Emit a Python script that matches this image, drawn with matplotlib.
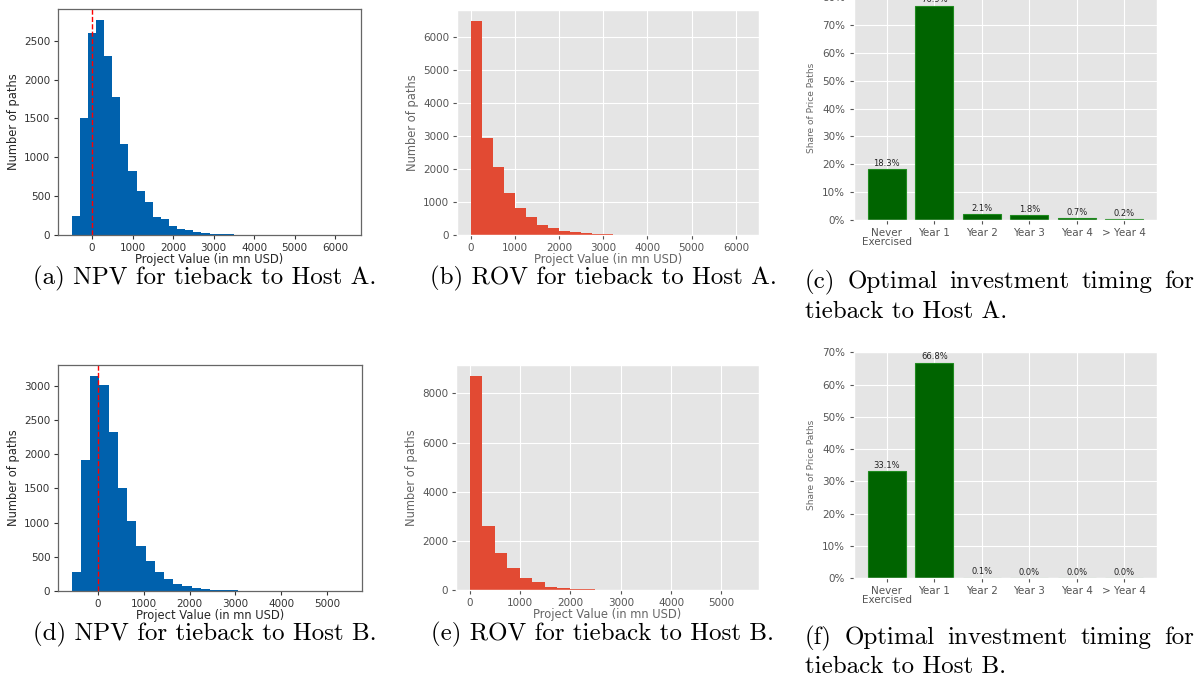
import matplotlib
matplotlib.use("Agg")
import matplotlib.pyplot as plt
import numpy as np
from matplotlib.ticker import FuncFormatter

# simulated project values, binned (counts per bin)
npv_a_edges = np.linspace(-500, 6300, 35)
npv_a_counts = [240, 1510, 2600, 2770, 2300, 1770, 1165, 830, 562, 420, 232, 206,
                111, 81, 65, 34, 30, 17, 13, 8, 5, 3, 6, 2, 1, 1, 0, 0, 1, 0, 0, 0, 0, 1]

rov_a_edges = np.linspace(0, 6213, 26)
rov_a_counts = [6500, 2950, 2070, 1265, 824, 543, 300, 211, 120, 90, 50, 40, 25,
                8, 5, 3, 2, 1, 1, 0, 0, 1, 0, 0, 1]

npv_b_edges = np.linspace(-574, 5464, 31)
npv_b_counts = [272, 1910, 3145, 3014, 2324, 1502, 1021, 651, 433, 277, 170, 97,
                68, 44, 24, 20, 12, 8, 4, 3, 2, 1, 1, 0, 0, 1, 0, 0, 0, 1]

rov_b_edges = np.linspace(0, 5473, 23)
rov_b_counts = [8720, 2620, 1500, 905, 500, 311, 135, 81, 40, 25, 15, 8, 4, 2,
                1, 1, 0, 0, 1, 0, 0, 1]

timing_labels = ["Never\nExercised", "Year 1", "Year 2", "Year 3", "Year 4", "> Year 4"]
timing_a = [18.3, 76.9, 2.1, 1.8, 0.7, 0.2]
timing_b = [33.1, 66.8, 0.1, 0.0, 0.0, 0.0]

captions = [
    "(a) NPV for tieback to Host A.",
    "(b) ROV for tieback to Host A.",
    ["(c) Optimal investment timing for", "tieback to Host A."],
    "(d) NPV for tieback to Host B.",
    "(e) ROV for tieback to Host B.",
    ["(f) Optimal investment timing for", "tieback to Host B."],
]

W, H = 1200, 680
fig = plt.figure(figsize=(W / 100, H / 100), dpi=100)


def add_box(left, top, right, bottom):
    # axes from pixel box (origin top-left)
    return fig.add_axes([left / W, 1 - bottom / H, (right - left) / W, (bottom - top) / H])


def npv_panel(box, edges, counts):
    ax = add_box(*box)
    ax.hist(edges[:-1], bins=edges, weights=counts, color="#0061ad")
    ax.axvline(0, color="red", ls="--", lw=1)
    ax.set_xlabel("Project Value (in mn USD)", fontsize=8.3, color="#262626", labelpad=0.5)
    ax.set_ylabel("Number of paths", fontsize=8.3, color="#262626", labelpad=3)
    ax.tick_params(labelsize=7.5, colors="#333333", length=3, pad=2.5)
    for s in ax.spines.values():
        s.set_color("#666666")
        s.set_linewidth(0.9)
    return ax


def rov_panel(box, edges, counts):
    with plt.style.context("ggplot"):
        ax = add_box(*box)
        ax.hist(edges[:-1], bins=edges, weights=counts, color="#E24A33")
        ax.set_xlabel("Project Value (in mn USD)", fontsize=8.3, color="#666666", labelpad=0.5)
        ax.set_ylabel("Number of paths", fontsize=8.3, color="#666666", labelpad=3)
        ax.tick_params(labelsize=7.5, length=3, pad=2.5)
    return ax


def timing_panel(box, shares):
    with plt.style.context("ggplot"):
        ax = add_box(*box)
        x = np.arange(len(shares))
        ax.bar(x, shares, width=0.8, color="#006400", edgecolor="#1f8a1f", linewidth=0.8)
        for xi, v in zip(x, shares):
            ax.annotate(f"{v:.1f}%", (xi, v), xytext=(0, 1), textcoords="offset points",
                        ha="center", va="bottom", fontsize=6, color="#222222",
                        annotation_clip=False)
        ax.set_xticks(x)
        ax.set_xticklabels(timing_labels, fontsize=7.5, linespacing=0.95)
        ax.yaxis.set_major_formatter(FuncFormatter(lambda v, p: f"{v:.0f}%"))
        ax.set_ylabel("Share of Price Paths", fontsize=6.5, color="#666666")
        ax.tick_params(axis="y", labelsize=7.5, length=3)
        ax.tick_params(axis="x", length=3, pad=2.5)
    return ax


npv_panel((58, 9, 361, 235), npv_a_edges, npv_a_counts)
rov_panel((457, 10, 759, 235), rov_a_edges, rov_a_counts)
timing_panel((854, -5, 1157, 220), timing_a)
npv_panel((58, 365, 362, 591), npv_b_edges, npv_b_counts)
rov_panel((456, 365, 759, 590), rov_b_edges, rov_b_counts)
timing_panel((854, 352, 1157, 578), timing_b)

# subfigure captions
cap_font = dict(family=["cmr10", "DejaVu Serif"], fontsize=18, color="black")
renderer = fig.canvas.get_renderer()


def justified_line(line, x0, x1, y):
    # spread the words of a caption line across [x0, x1] pixels
    words = line.split()
    texts = [fig.text(0, 1 - y / H, w, ha="left", va="center", **cap_font) for w in words]
    widths = [t.get_window_extent(renderer).width for t in texts]
    gap = (x1 - x0 - sum(widths)) / (len(words) - 1)
    x = x0
    for t, w in zip(texts, widths):
        t.set_x(x / W)
        x += w + gap


fig.text(205 / W, 1 - 278 / H, captions[0], ha="center", va="center", **cap_font)
fig.text(603 / W, 1 - 278 / H, captions[1], ha="center", va="center", **cap_font)
justified_line(captions[2][0], 805, 1194, 282)
fig.text(805 / W, 1 - 312 / H, captions[2][1], ha="left", va="center", **cap_font)
fig.text(205 / W, 1 - 634 / H, captions[3], ha="center", va="center", **cap_font)
fig.text(603 / W, 1 - 634 / H, captions[4], ha="center", va="center", **cap_font)
justified_line(captions[5][0], 805, 1194, 638)
fig.text(805 / W, 1 - 667 / H, captions[5][1], ha="left", va="center", **cap_font)

fig.savefig("out.png", dpi=100)
